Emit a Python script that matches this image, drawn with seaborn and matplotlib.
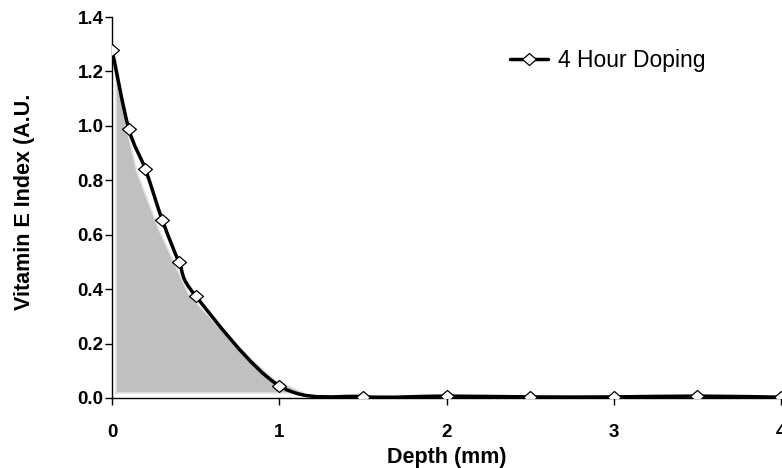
import matplotlib
matplotlib.use("Agg")
import matplotlib.pyplot as plt
from matplotlib.path import Path
from matplotlib.patches import PathPatch
from matplotlib.lines import Line2D
import seaborn as sns
import pandas as pd

# Measured series: 4 Hour Doping
depth = [0.0, 0.1, 0.2, 0.3, 0.4, 0.5, 1.0, 1.5, 2.0, 2.5, 3.0, 3.5, 4.0]
vit_e = [1.28, 0.99, 0.84, 0.655, 0.50, 0.375, 0.045, 0.005, 0.007, 0.004, 0.004, 0.007, 0.003]

# Grey shaded region outline
shade_x = [0.024, 0.024, 0.10, 0.15, 0.28, 0.46, 0.70, 0.97, 1.15, 1.15]
shade_y = [0.018, 1.25, 0.96, 0.83, 0.62, 0.38, 0.22, 0.066, 0.018, 0.018]

series_label = "4 Hour Doping"
x_ticks = [0, 1, 2, 3, 4]
y_ticks = [0.0, 0.2, 0.4, 0.6, 0.8, 1.0, 1.2, 1.4]

sns.set_theme(style="white")
plt.rcParams['font.family'] = ['Liberation Sans', 'DejaVu Sans']
plt.rcParams['text.color'] = 'black'
plt.rcParams['axes.labelcolor'] = 'black'

fig = plt.figure(figsize=(7.82, 4.68), dpi=100)
ax = fig.add_axes([112/782, 1 - 398/468, (781-112)/782, (398-17)/468])

ax.fill(shade_x, shade_y, facecolor="#c0c0c0", edgecolor="#e4e4e4", linewidth=1.2, zorder=1)

# smoothed (Excel-style Bezier) line through the data points
pts = list(zip(depth, vit_e))
n = len(pts)
verts = [pts[0]]
codes = [Path.MOVETO]
for i in range(n - 1):
    p0 = pts[max(i - 1, 0)]
    p1 = pts[i]
    p2 = pts[i + 1]
    p3 = pts[min(i + 2, n - 1)]
    c1 = (p1[0] + (p2[0] - p0[0]) / 6, p1[1] + (p2[1] - p0[1]) / 6)
    c2 = (p2[0] - (p3[0] - p1[0]) / 6, p2[1] - (p3[1] - p1[1]) / 6)
    verts += [c1, c2, p2]
    codes += [Path.CURVE4] * 3
line_patch = PathPatch(Path(verts, codes), facecolor="none", edgecolor="black",
                       linewidth=2.5, zorder=3, capstyle="butt", joinstyle="round")
ax.add_patch(line_patch)

diamond = Path([(-1, 0), (0, 0.86), (1, 0), (0, -0.86), (-1, 0)],
               [Path.MOVETO, Path.LINETO, Path.LINETO, Path.LINETO, Path.CLOSEPOLY])

df = pd.DataFrame({"Depth": depth, "VitE": vit_e})
sns.lineplot(data=df, x="Depth", y="VitE", ax=ax, linestyle="none",
             marker=diamond, markersize=10, markerfacecolor="white", markeredgecolor="black",
             markeredgewidth=0.9, legend=False, zorder=4)

ax.set_xlim(0, 4)
ax.set_ylim(0, 1.4)
ax.set_xticks(x_ticks)
ax.set_xticklabels([str(t) for t in x_ticks])
ax.set_yticks(y_ticks)
ax.set_yticklabels([f"{t:.1f}" for t in y_ticks])

for s in ["top", "right"]:
    ax.spines[s].set_visible(False)
for s in ["left", "bottom"]:
    ax.spines[s].set_color("black")
    ax.spines[s].set_linewidth(1.0)

ax.tick_params(axis="both", which="major", direction="out", length=5, width=1,
               colors="black", labelsize=13.5, bottom=True, left=True)
ax.tick_params(axis="x", pad=14)
ax.tick_params(axis="y", pad=1)
for lbl in ax.get_xticklabels() + ax.get_yticklabels():
    lbl.set_fontweight("bold")

ax.set_xlabel("Depth (mm)", fontsize=15.5, fontweight="bold", labelpad=4)
ax.set_ylabel("Vitamin E Index (A.U.", fontsize=15.5, fontweight="bold")
ax.yaxis.set_label_coords(-(112 - 35) / 669, (398 - 202) / 381)

handle = Line2D([], [], color="black", linewidth=2.5, marker=diamond, markersize=10,
                markerfacecolor="white", markeredgecolor="black", markeredgewidth=0.9)
leg = ax.legend([handle], [series_label], loc="center left",
                bbox_to_anchor=((510 - 112) / 669, (398 - 61) / 381), frameon=False,
                fontsize=16.5, handlelength=1.66, handletextpad=0.44, borderpad=0,
                borderaxespad=0)

fig.savefig("out.png", dpi=100)
